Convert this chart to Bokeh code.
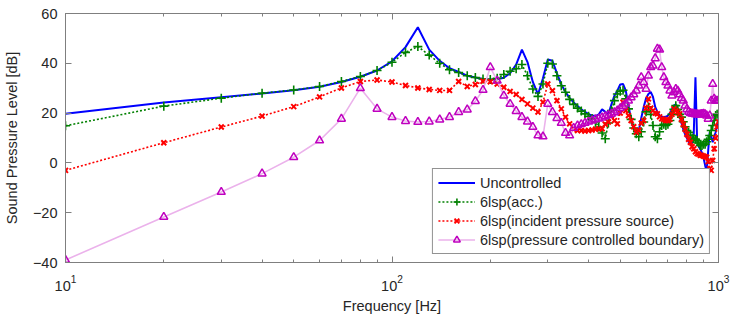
from bokeh.plotting import figure
from bokeh.models import LinearAxis, FixedTicker, Range1d, LogTickFormatter, BasicTickFormatter
from bokeh.embed import file_html
from bokeh.resources import INLINE

freq = [10, 20, 30, 40, 50, 60, 70, 80, 90, 100,
        110, 120, 130, 140, 150, 160, 170, 180, 190, 200,
        210, 220, 230, 240, 250, 260, 270, 280, 290, 300,
        310, 320, 330, 340, 350, 360, 370, 380, 390, 400,
        410, 420, 430, 440, 450, 460, 470, 480, 490, 500,
        510, 520, 530, 540, 550, 560, 570, 580, 590, 600,
        610, 620, 630, 640, 650, 660, 670, 680, 690, 700,
        710, 720, 730, 740, 750, 760, 770, 780, 790, 800,
        810, 820, 830, 840, 850, 860, 870, 880, 890, 900,
        910, 920, 930, 940, 950, 960, 970, 980, 990, 1000]

uncontrolled = [19.7, 24.3, 26.4, 27.9, 29.2, 30.6, 32.5, 34.6, 37.1, 40.8,
                46.5, 54.5, 45.5, 41.0, 38.0, 36.5, 35.0, 34.3, 33.7, 33.5,
                33.6, 34.2, 36.0, 39.5, 45.5, 40.5, 32.5, 27.5, 34.0, 41.5,
                41.0, 36.0, 31.5, 28.5, 26.0, 24.3, 22.8, 21.5, 20.5, 19.6,
                19.0, 18.8, 19.5, 21.5, 20.5, 19.5, 23.5, 27.0, 29.0, 31.5,
                31.7, 29.0, 23.0, 17.5, 13.5, 11.7, 13.0, 18.0, 22.4, 26.0,
                27.7, 28.5, 26.5, 22.5, 20.5, 19.0, 18.5, 18.4, 18.5, 19.0,
                20.0, 21.5, 23.0, 23.5, 22.0, 19.0, 16.0, 13.5, 11.5, 10.0,
                8.5, 7.5, 8.0, 12.0, 34.4, 9.0, 6.5, 5.5, 4.0, 2.0,
                -1.0, -3.5, 5.0, 12.3, 10.5, 8.3, 10.5, 12.3, 15.0, 17.5]

acc = [14.9, 22.8, 26.0, 28.0, 29.3, 30.7, 32.7, 34.7, 37.1, 40.4,
       44.4, 46.7, 43.3, 40.0, 37.4, 36.3, 35.0, 34.3, 33.7, 33.5,
       34.0, 35.5, 36.8, 37.8, 39.5, 35.0, 29.7, 26.7, 31.7, 40.0,
       39.7, 35.0, 31.0, 28.4, 25.5, 23.5, 22.0, 20.8, 19.7, 18.7,
       17.8, 16.4, 14.4, 12.0, 9.7, 16.0, 21.0, 25.0, 27.7, 28.8,
       29.2, 25.7, 21.7, 17.5, 14.0, 11.7, 10.5, 12.5, 16.4, 20.5,
       22.5, 19.5, 15.0, 10.5, 9.7, 12.5, 15.0, 15.5, 15.0, 15.5,
       17.0, 19.5, 21.5, 23.0, 21.5, 19.5, 18.4, 16.5, 14.5, 13.0,
       12.3, 11.0, 10.0, 9.7, 9.5, 9.0, 8.0, 7.0, 7.0, 7.5,
       7.5, 8.5, 9.5, 11.0, 13.0, 15.0, 17.0, 19.0, 19.5, 19.7]

incident = [-3.0, 8.1, 14.4, 18.8, 22.6, 26.5, 30.1, 32.7, 33.3, 32.5,
            31.1, 30.1, 29.5, 29.1, 29.1, 32.7, 30.7, 31.5, 32.8, 32.6,
            31.7, 30.4, 28.7, 27.5, 25.5, 23.7, 22.0, 20.4, 24.4, 31.7,
            29.0, 25.0, 21.7, 18.4, 15.7, 13.5, 13.0, 13.0, 12.8, 13.0,
            13.2, 13.5, 13.7, 13.7, 15.5, 16.4, 19.0, 17.0, 15.7, 20.0,
            24.4, 21.0, 19.0, 17.0, 14.5, 12.3, 13.0, 16.0, 17.0, 22.0,
            25.7, 22.0, 21.0, 20.0, 19.7, 18.5, 17.7, 17.5, 17.0, 17.0,
            17.5, 19.5, 21.7, 21.0, 20.5, 19.7, 17.5, 15.5, 13.5, 11.5,
            9.5, 8.3, 6.5, 5.7, 4.5, 3.7, 3.5, 3.0, 3.0, 2.7,
            2.5, 2.3, 0.5, -2.3, -3.0, 1.0, 5.7, 10.0, 14.4, 16.5]

boundary = [-39.0, -21.7, -11.7, -4.3, 2.3, 9.0, 17.7, 30.0, 21.7, 18.4,
            16.8, 16.4, 16.6, 17.4, 18.4, 20.4, 21.4, 24.8, 29.3, 38.4,
            33.0, 27.0, 23.7, 20.8, 18.4, 16.6, 14.4, 11.0, 10.6, 23.7,
            20.4, 18.0, 16.0, 12.0, 11.0, 14.0, 15.0, 15.5, 16.0, 16.5,
            17.0, 17.5, 17.8, 18.2, 18.7, 19.2, 19.7, 20.3, 21.0, 22.0,
            22.8, 23.8, 25.0, 26.3, 27.5, 29.0, 31.0, 34.4, 32.4, 29.7,
            35.0, 38.4, 39.0, 42.0, 45.8, 45.5, 38.4, 34.4, 32.4, 31.0,
            29.0, 27.0, 28.4, 29.7, 29.0, 27.5, 26.0, 25.0, 23.0, 21.5,
            20.5, 20.0, 19.8, 19.7, 19.5, 19.5, 19.4, 19.5, 19.6, 19.7,
            19.5, 19.0, 17.7, 19.0, 25.0, 31.7, 25.8, 25.0, 25.0, 25.0]

x_major = [10, 100, 1000]
x_minor = [20, 30, 40, 50, 60, 70, 80, 90, 200, 300, 400, 500, 600, 700, 800, 900]
y_ticks = [-40, -20, 0, 20, 40, 60]

FONT = "Liberation Sans"
TXT = "#262626"
AX = "#7f7f7f"

p = figure(frame_width=653, frame_height=249, x_axis_type="log",
           x_range=Range1d(10, 1000), y_range=Range1d(-40, 60),
           output_backend="svg", toolbar_location=None,
           min_border_left=63, min_border_right=14, min_border_top=13, min_border_bottom=61)
p.grid.visible = False
p.outline_line_color = AX
p.background_fill_color = "white"

xt = FixedTicker(ticks=x_major, minor_ticks=x_minor)
yt = FixedTicker(ticks=y_ticks)

xa = p.xaxis[0]
xa.ticker = xt
xa.formatter = LogTickFormatter()
xa.axis_label = "Frequency [Hz]"
ya = p.yaxis[0]
ya.ticker = yt
ya.axis_label = "Sound Pressure Level [dB]"

for a in (xa, ya):
    a.axis_line_color = AX
    a.major_tick_line_color = AX
    a.minor_tick_line_color = AX
    a.major_tick_in = 6
    a.major_tick_out = 0
    a.minor_tick_in = 3
    a.minor_tick_out = 0
    a.major_label_text_font = FONT
    a.major_label_text_font_size = "14.5px"
    a.major_label_text_color = TXT
    a.axis_label_text_font = FONT
    a.axis_label_text_font_size = "14.5px"
    a.axis_label_text_font_style = "normal"
    a.axis_label_text_color = TXT
ya.minor_tick_line_color = None
xa.major_label_standoff = 12
xa.axis_label_standoff = 4
ya.major_label_standoff = 8
ya.axis_label_standoff = 10

# mirrored tick marks on the top and right edges (labels invisible)
top = LinearAxis(ticker=xt, formatter=BasicTickFormatter(), major_label_text_font_size="1px",
                 major_label_text_color=None, major_label_standoff=0,
                 axis_line_color=AX, major_tick_line_color=AX, minor_tick_line_color=AX,
                 major_tick_in=6, major_tick_out=0, minor_tick_in=3, minor_tick_out=0)
p.add_layout(top, "above")
right = LinearAxis(ticker=yt, major_label_text_font_size="1px", major_label_text_color=None,
                   major_label_standoff=0,
                   axis_line_color=AX, major_tick_line_color=AX, minor_tick_line_color=None,
                   major_tick_in=6, major_tick_out=0, minor_tick_in=0, minor_tick_out=0)
p.add_layout(right, "right")

p.line(freq, uncontrolled, color="#0000FF", line_width=2, legend_label="Uncontrolled")

p.line(freq, acc, color="#008000", line_width=1.6, line_dash="2 2", legend_label="6lsp(acc.)")
p.scatter(freq, acc, marker="cross", size=9, line_width=1.6, color="#008000", legend_label="6lsp(acc.)")

p.line(freq, incident, color="#FF0000", line_width=1.6, line_dash="2 2",
       legend_label="6lsp(incident pressure source)")
p.scatter(freq, incident, marker="x", size=7, line_width=2, color="#FF0000",
          legend_label="6lsp(incident pressure source)")

p.line(freq, boundary, color="#EBB2EB", line_width=1.6,
       legend_label="6lsp(pressure controlled boundary)")
p.scatter(freq, boundary, marker="triangle", size=8, line_width=1.5, line_color="#BF00BF",
          fill_color=None, legend_label="6lsp(pressure controlled boundary)")

lg = p.legend[0]
lg.location = "bottom_right"
lg.margin = 8
lg.padding = 5
lg.spacing = 2
lg.label_height = 17
lg.glyph_height = 17
lg.glyph_width = 37
lg.label_standoff = 5
lg.border_line_color = TXT
lg.border_line_width = 1
lg.background_fill_alpha = 1
lg.label_text_font = FONT
lg.label_text_font_size = "14.5px"
lg.label_text_color = TXT

open("out.html", "w").write(file_html(p, INLINE))
